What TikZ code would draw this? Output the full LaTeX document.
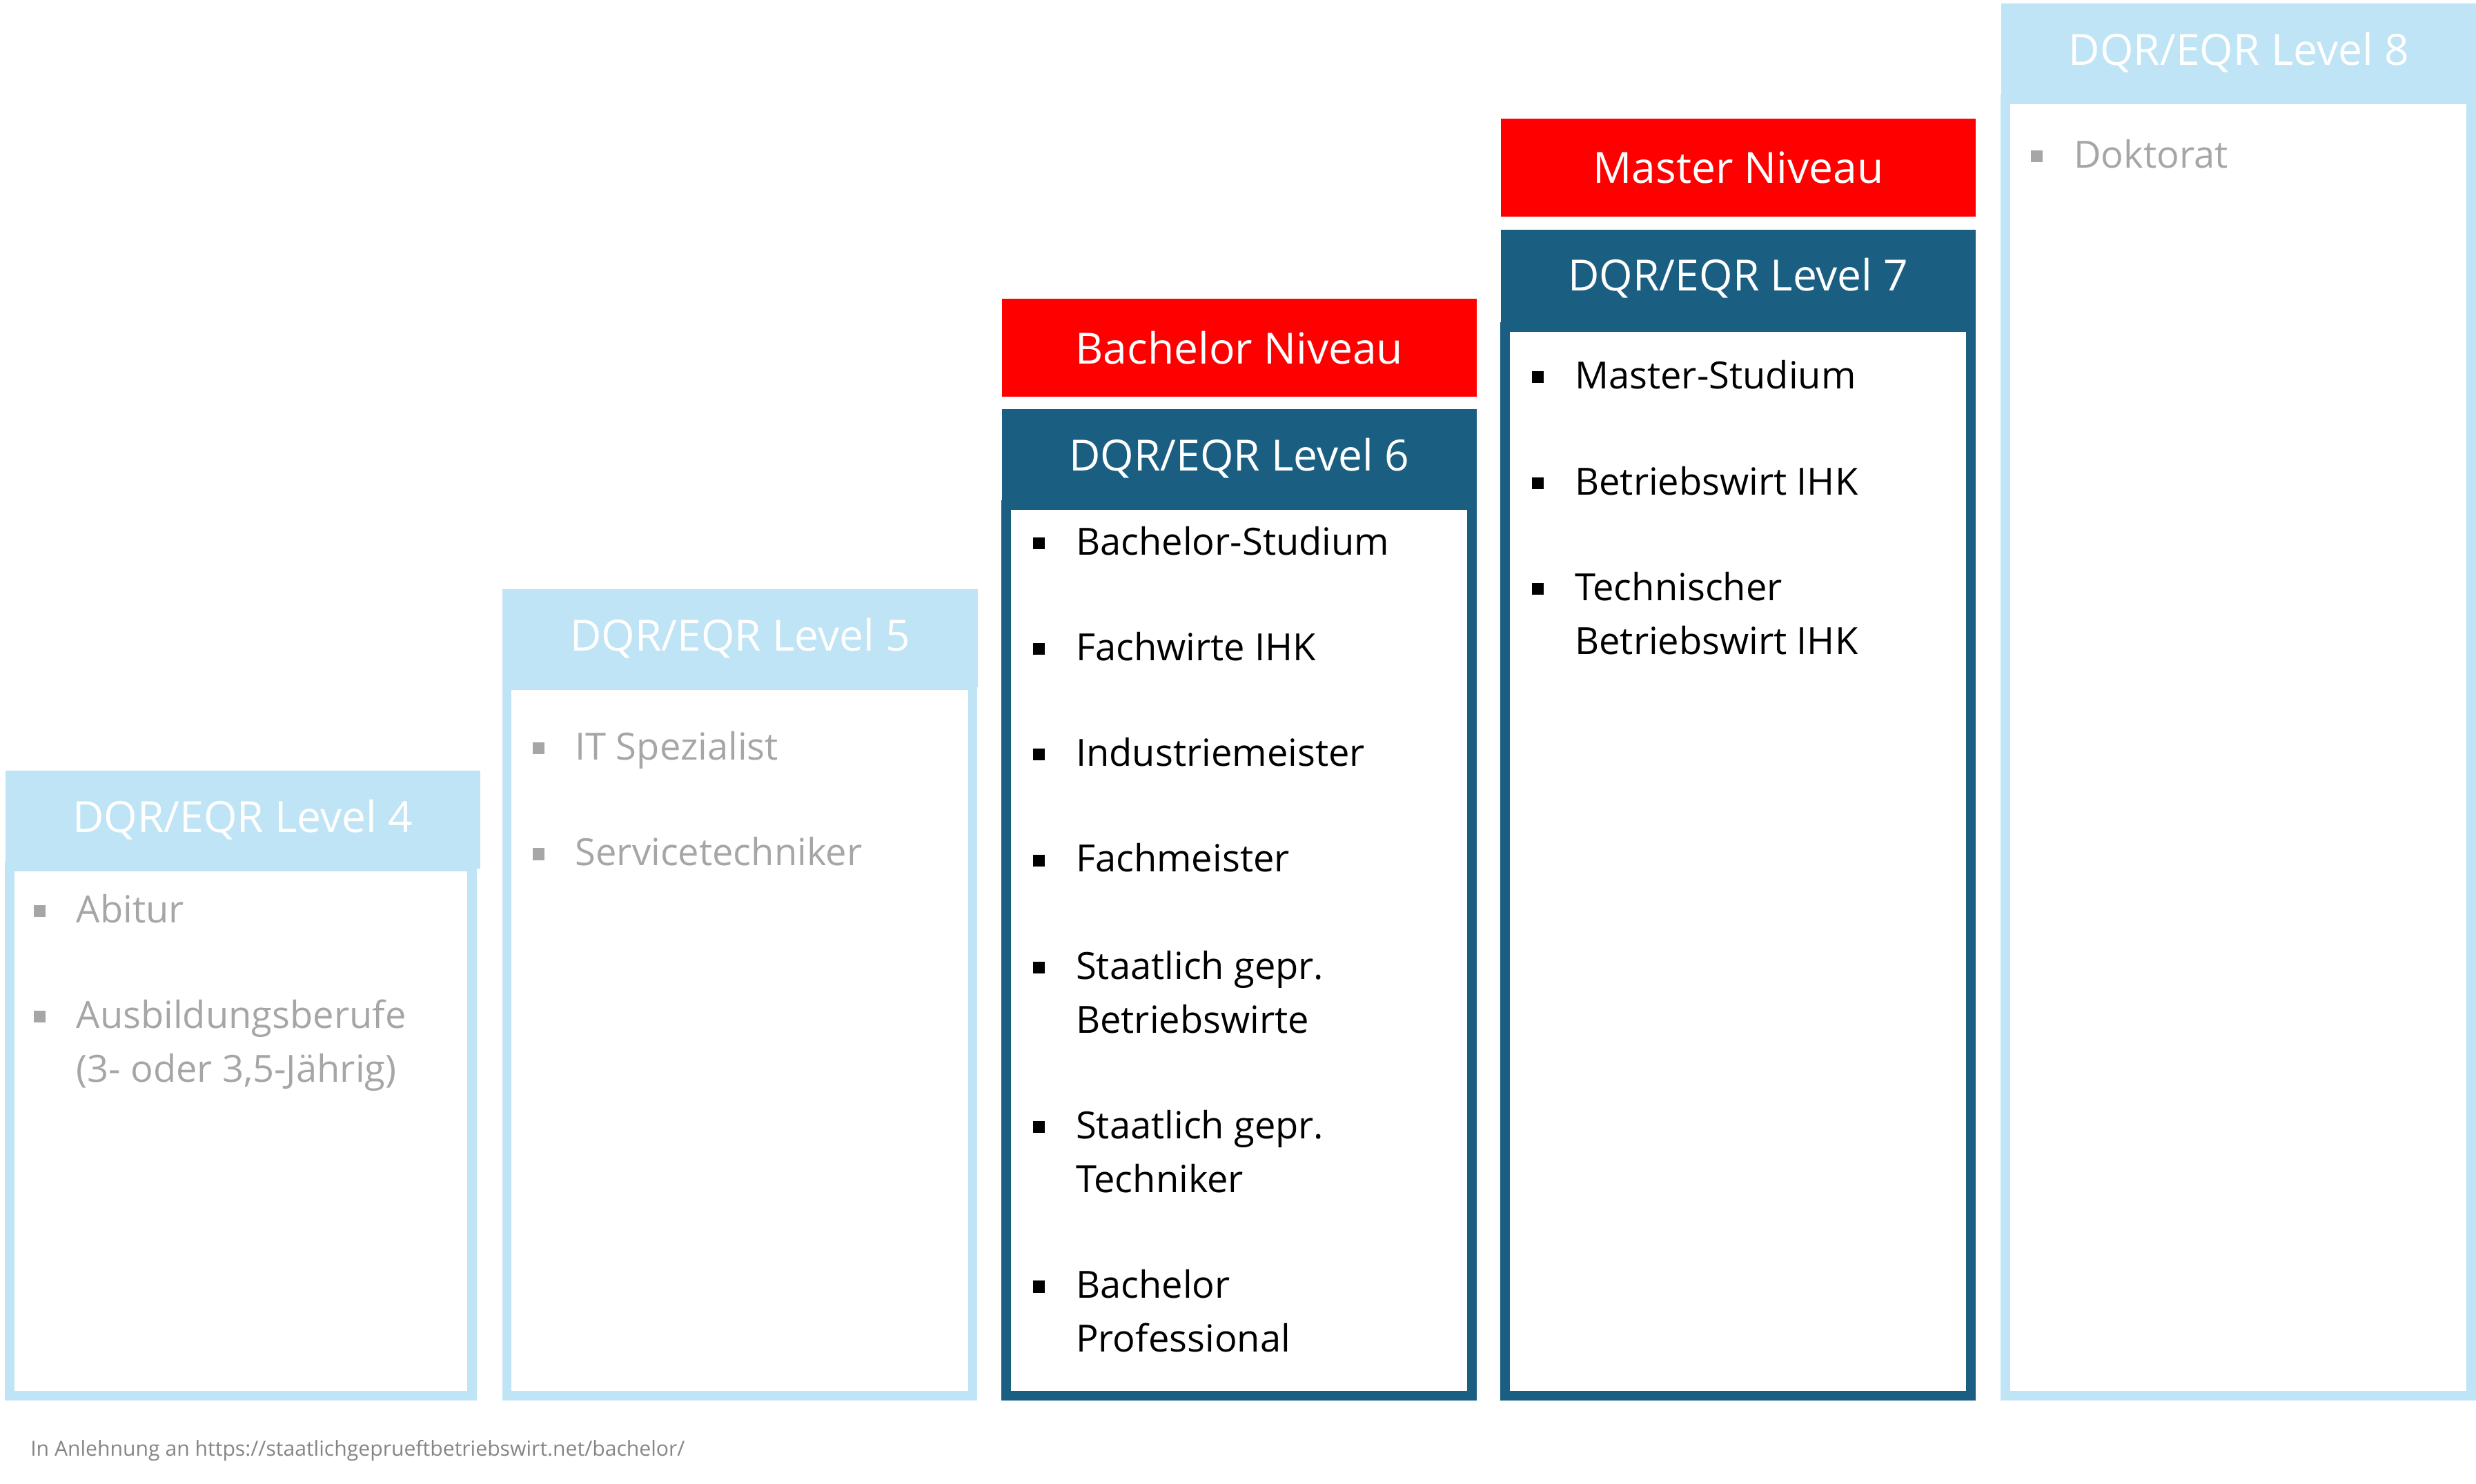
\documentclass[tikz,border=0pt]{standalone}
\usepackage{fontspec}
\setmainfont{Open Sans}
\usetikzlibrary{positioning}
\definecolor{lightlvl}{HTML}{BFE4F5}
\definecolor{darklvl}{HTML}{1A5F82}
\definecolor{nivred}{HTML}{FF0000}
\definecolor{greytext}{HTML}{A6A6A6}
\begin{document}
\begin{tikzpicture}[x=0.02cm,y=-0.02cm,
		head/.style={rectangle,inner sep=0pt,minimum width=6.02cm,minimum height=1.24cm,anchor=north west,font=\fontsize{15.5}{18}\selectfont},
		item/.style={anchor=north west,inner sep=0pt,align=left,font=\fontsize{13.5}{19.3}\selectfont},
		bul/.style={fill,minimum size=0.15cm,inner sep=0pt}]
		\useasboundingbox (0,0) rectangle (1568,940);
		% light columns
		\draw[lightlvl,line width=0.12cm] (6,549) rectangle (299,884);
		\node[head,fill=lightlvl,text=white] (l4) at (3,488) {DQR/EQR Level 4};
		\draw[lightlvl,line width=0.12cm] (321,434) rectangle (616,884);
		\node[head,fill=lightlvl,text=white] (l5) at (318,373) {DQR/EQR Level 5};
		\draw[lightlvl,line width=0.12cm] (1270,63) rectangle (1565,884);
		\node[head,fill=lightlvl,text=white] (l8) at (1267,2) {DQR/EQR Level 8};
		% dark columns
		\draw[darklvl,line width=0.12cm] (637,320) rectangle (932,884);
		\node[head,fill=darklvl,text=white] (l6) at (634,259) {DQR/EQR Level 6};
		\node[head,fill=nivred,text=white] (bach) at (634,189) {Bachelor Niveau};
		\draw[darklvl,line width=0.12cm] (953,207) rectangle (1248,884);
		\node[head,fill=darklvl,text=white] (l7) at (950,145) {DQR/EQR Level 7};
		\node[head,fill=nivred,text=white] (mast) at (950,75) {Master Niveau};
		% items
		\foreach \x/\y/\t [count=\i] in {
			48/566/Abitur,
			48/633/{Ausbildungsberufe\\(3- oder 3,5-Jährig)},
			364/463/IT Spezialist,
			364/530/Servicetechniker,
			1313/88/Doktorat}{
			\node[item,text=greytext] (g\i) at (\x,\y) {\t};
			\node[bul,greytext] at (\x-23,\y+11) {};
		}
		\foreach \x/\y/\t [count=\i] in {
			681/333/Bachelor-Studium,
			681/400/Fachwirte IHK,
			681/467/Industriemeister,
			681/534/Fachmeister,
			681/602/{Staatlich gepr.\\Betriebswirte},
			681/703/{Staatlich gepr.\\Techniker},
			681/804/{Bachelor\\Professional},
			997/228/Master-Studium,
			997/295/Betriebswirt IHK,
			997/362/{Technischer\\Betriebswirt IHK}}{
			\node[item] (d\i) at (\x,\y) {\t};
			\node[bul,black] at (\x-23,\y+11) {};
		}
		\node[anchor=west,inner sep=0pt,text=greytext!80!black,font=\fontsize{7.5}{9}\selectfont] (src) at (19,919)
			{In Anlehnung an https://staatlichgeprueftbetriebswirt.net/bachelor/};
\end{tikzpicture}
\end{document}
